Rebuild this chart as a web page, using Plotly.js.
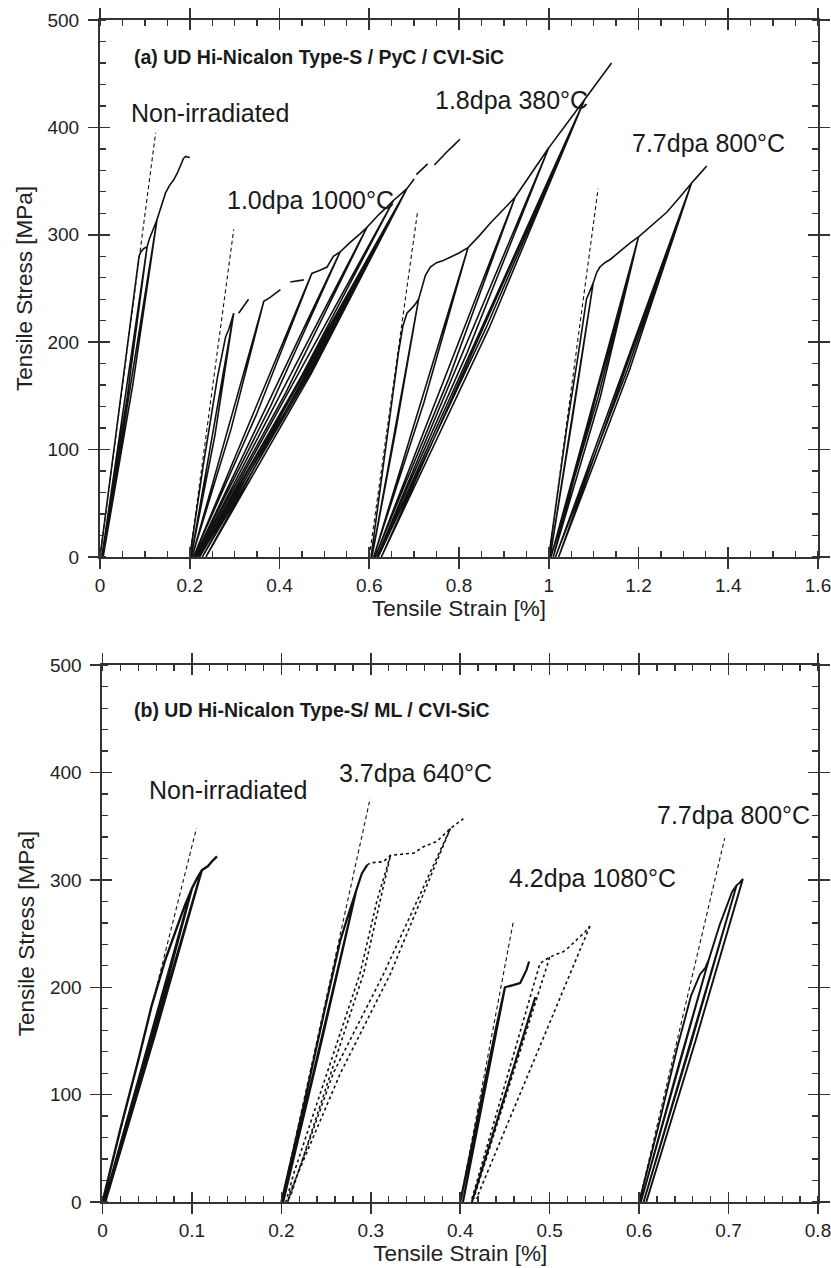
<!DOCTYPE html>
<html><head><meta charset="utf-8">
<script src="https://cdn.plot.ly/plotly-3.0.1.min.js"></script>
<style>html,body{margin:0;padding:0;background:#fff}#chart{width:831px;height:1268px}</style>
</head><body><div id="chart"></div>
<script>
// ===== (a) UD Hi-Nicalon Type-S / PyC / CVI-SiC =====
// Non-irradiated
const aNonX = [0,0.031,0.062,0.087,0.091,0.097,0.105, 0.061,0.004,0.105, 0.110,0.118,0.127, 0.073,0.007,0.127, 0.137,0.146,0.155,0.164,0.173,0.180,0.186,0.191,0.200];
const aNonY = [0,100,200,280,284,287,289,         150,0,289,             296,305,314,         160,0,314,             327,339,346,351,358,366,371,373,372];
const aNonDashX = [0, 0.124];
const aNonDashY = [0, 395];
// 1.0 dpa 1000 C
const a10X = [0.200,0.230,0.262,0.280,0.287,0.298, 0.256,0.203,0.298, null,
  0.309,0.320,0.331, null,
  0.365,0.292,0.205,0.365, 0.380,0.402, null,
  0.424,0.440,0.454, null,
  0.472,0.348,0.208,0.472, 0.490,0.506,0.520,0.535,
  0.382,0.211,0.535, 0.555,0.580,0.595,
  0.414,0.214,0.595, 0.610,0.624,0.640,0.654,
  0.446,0.218,0.654, 0.668,0.684,
  0.463,0.222,0.684, 0.467,0.228,0.684, 0.471,0.236,0.684,
  0.692,0.700, null, 0.705,0.718,0.730, null, 0.745,0.760,0.775,0.790,0.802];
const a10Y = [0,85,168,205,212,227, 113,0,227, null,
  227,234,240, null,
  238,119,0,238, 242,249, null,
  256,257,258, null,
  264,132,0,264, 267,270,280,284,
  142,0,284, 292,301,307,
  153,0,307, 314,320,326,332,
  166,0,332, 337,343,
  171,0,343, 171,0,343, 171,0,343,
  347,352, null, 356,361,366, null, 365,372,378,384,389];
const a10DashX = [0.200, 0.298];
const a10DashY = [0, 305];
// 1.8 dpa 380 C
const a18X = [0.604,0.640,0.665,0.675,0.684,0.700,0.710, 0.660,0.606,0.710,
  0.718,0.725,0.736,0.750,0.765,0.780,0.800,0.820, 0.722,0.610,0.820,
  0.845,0.870,0.900,0.925, 0.778,0.613,0.925,
  0.960,1.000, 0.818,0.617,1.000,
  1.040,1.080, 0.860,0.620,1.080, 0.867,0.627,1.080,
  1.110,1.140];
const a18Y = [0,110,190,215,227,234,240, 120,0,240,
  252,262,270,274,276,279,283,288, 144,0,288,
  299,311,324,335, 167,0,335,
  357,381, 190,0,381,
  404,426, 213,0,426, 213,0,426,
  443,460];
const a18DashX = [0.600, 0.7075];
const a18DashY = [0, 321];
// 7.7 dpa 800 C
const a77X = [1.000,1.040,1.070,1.084,1.099, 1.052,1.003,1.099,
  1.107,1.114,1.125,1.137,1.160,1.180,1.200, 1.110,1.005,1.200, 1.115,1.010,1.200,
  1.230,1.263,1.290,1.318, 1.175,1.015,1.318, 1.180,1.022,1.318,
  1.335,1.352];
const a77Y = [0,120,200,240,255, 127,0,255,
  265,270,274,277,285,292,298, 149,0,298, 149,0,298,
  309,321,334,348, 174,0,348, 174,0,348,
  356,364];
const a77DashX = [1.000, 1.110];
const a77DashY = [0, 343];

// ===== (b) UD Hi-Nicalon Type-S / ML / CVI-SiC =====
// Non-irradiated
const bNonX = [0,0.020,0.040,0.055,0.070,0.085,0.092,0.100, 0.053,0.002,0.100,
  0.106,0.111, 0.058,0.003,0.111, 0.114,0.118,0.122,0.128];
const bNonY = [0,68,132,183,225,260,276,292, 146,0,292,
  302,309, 154,0,309, 311,313,317,322];
const bNonDashX = [0, 0.105];
const bNonDashY = [0, 348];
// 3.7 dpa 640 C
const b37X = [0.200,0.225,0.250,0.266,0.275,0.281,0.284, 0.245,0.202,0.284, 0.290,0.296];
const b37Y = [0,90,185,244,268,284,291, 150,0,291, 306,314];
const b37DotX = [0.296,0.300,0.314,0.322,0.335,0.348,0.359,0.374,0.389,0.396,0.4035, null,
  0.322,0.307,0.288,0.214,0.205,0.210,0.292,0.322, null,
  0.389,0.3216,0.266,0.210,0.207,0.212,0.258,0.314,0.389];
const b37DotY = [314,316,317,323,324,325,331,336,348,352,357, null,
  323,281,213,27,0,5,213,323, null,
  348,212,120,10,0,12,120,212,348];
const b37DashX = [0.200, 0.2993];
const b37DashY = [0, 376];
// 4.2 dpa 1080 C
const b42X = [0.400,0.420,0.440,0.450, 0.426,0.403,0.450, 0.459,0.467,0.474,0.477, null, 0.413,0.484];
const b42Y = [0,82,162,200,           100,0,200,           202,204,216,224, null, 0,191];
const b42DotX = [0.413,0.4854,0.489,0.494,0.500,0.508,0.515,0.521,0.526,0.534,0.540,0.545, null,
  0.500,0.415, null, 0.545,0.418];
const b42DotY = [3,214,222,225,228,231,233,237,241,247,252,257, null,
  228,3, null, 257,3];
const b42DashX = [0.400, 0.4593];
const b42DashY = [0, 261];
// 7.7 dpa 800 C
const b77X = [0.600,0.622,0.643,0.658,0.668,0.674,0.678, 0.640,0.602,0.678,
  0.690,0.700,0.704,0.709, 0.658,0.605,0.709, 0.712,0.716, 0.663,0.608];
const b77Y = [0,72,145,192,212,218,226, 115,0,226,
  258,281,289,295, 148,0,295, 297,301, 150,0];
const b77DashX = [0.600, 0.6957];
const b77DashY = [0, 339];

// ticks and labels
const aXTicks = [0, 0.2, 0.4, 0.6, 0.8, 1, 1.2, 1.4, 1.6];
const aXTickText = ['0', '0.2', '0.4', '0.6', '0.8', '1', '1.2', '1.4', '1.6'];
const bXTicks = [0, 0.1, 0.2, 0.3, 0.4, 0.5, 0.6, 0.7, 0.8];
const bXTickText = ['0', '0.1', '0.2', '0.3', '0.4', '0.5', '0.6', '0.7', '0.8'];
const yTicks = [0, 100, 200, 300, 400, 500];
const yTickText = ['0', '100', '200', '300', '400', '500'];
const aLabels = ['Non-irradiated', '1.0dpa 1000°C', '1.8dpa 380°C', '7.7dpa 800°C'];
const bLabels = ['Non-irradiated', '3.7dpa 640°C', '4.2dpa 1080°C', '7.7dpa 800°C'];
const aTitle = '(a) UD Hi-Nicalon Type-S / PyC / CVI-SiC';
const bTitle = '(b) UD Hi-Nicalon Type-S/ ML / CVI-SiC';
const xTitle = 'Tensile Strain [%]';
const yTitle = 'Tensile Stress [MPa]';

// ===== drawing =====
const FONT = "'Liberation Sans', Arial, Helvetica, sans-serif";
const INK = '#111';
const AX = '#333';

function solid(x, y, xa, ya, w) {
  return {type:'scatter', mode:'lines', x:x, y:y, xaxis:xa, yaxis:ya, connectgaps:false,
    line:{color:INK, width:w||1.6}, hoverinfo:'skip', showlegend:false};
}
function dashed(x, y, xa, ya) {
  return {type:'scatter', mode:'lines', x:x, y:y, xaxis:xa, yaxis:ya,
    line:{color:INK, width:1.1, dash:'4px,3px'}, hoverinfo:'skip', showlegend:false};
}
function dotted(x, y, xa, ya) {
  return {type:'scatter', mode:'lines', x:x, y:y, xaxis:xa, yaxis:ya, connectgaps:false,
    line:{color:INK, width:1.6, dash:'dot'}, hoverinfo:'skip', showlegend:false};
}

const traces = [
  dashed(aNonDashX, aNonDashY, 'x', 'y'),
  dashed(a10DashX, a10DashY, 'x', 'y'),
  dashed(a18DashX, a18DashY, 'x', 'y'),
  dashed(a77DashX, a77DashY, 'x', 'y'),
  solid(aNonX, aNonY, 'x', 'y'),
  solid(a10X, a10Y, 'x', 'y'),
  solid(a18X, a18Y, 'x', 'y'),
  solid(a77X, a77Y, 'x', 'y'),
  dashed(bNonDashX, bNonDashY, 'x2', 'y2'),
  dashed(b37DashX, b37DashY, 'x2', 'y2'),
  dashed(b42DashX, b42DashY, 'x2', 'y2'),
  dashed(b77DashX, b77DashY, 'x2', 'y2'),
  solid(bNonX, bNonY, 'x2', 'y2', 2.4),
  solid(b37X, b37Y, 'x2', 'y2', 2.2),
  dotted(b37DotX, b37DotY, 'x2', 'y2'),
  solid(b42X, b42Y, 'x2', 'y2', 2.2),
  dotted(b42DotX, b42DotY, 'x2', 'y2'),
  solid(b77X, b77Y, 'x2', 'y2', 1.9),
  {type:'scatter', mode:'lines', x:[], y:[], xaxis:'x3', yaxis:'y3', hoverinfo:'skip', showlegend:false},
  {type:'scatter', mode:'lines', x:[], y:[], xaxis:'x4', yaxis:'y4', hoverinfo:'skip', showlegend:false}
];

function mainAxis(range, vals, text, mdtick, title, standoff, extra) {
  return Object.assign({
    range:range, tickmode:'array', tickvals:vals, ticktext:text,
    ticks:'outside', ticklen:10, tickwidth:1.6, tickcolor:AX,
    minor:{dtick:mdtick, tick0:0, ticks:'inside', ticklen:6, tickwidth:1.3, tickcolor:AX, showgrid:false},
    showline:true, linewidth:2, linecolor:AX, mirror:'ticks', showgrid:false, zeroline:false,
    tickfont:{family:FONT, size:19, color:'#222'}, ticklabeloverflow:'allow',
    title:{text:title, font:{family:FONT, size:22.5, color:'#222'}, standoff:standoff},
    automargin:false, fixedrange:true
  }, extra);
}
function overAxis(range, vals, extra) {
  return Object.assign({
    range:range, tickmode:'array', tickvals:vals,
    ticks:'inside', ticklen:10, tickwidth:1.6, tickcolor:AX,
    showticklabels:false, showline:false, mirror:'ticks', showgrid:false, zeroline:false,
    automargin:false, fixedrange:true
  }, extra);
}

const topY = [0.54573, 1];
const botY = [0, 0.45410];
const botX = [0.00348, 1];

const layout = {
  width:831, height:1268,
  margin:{l:99.5, r:12.7, t:19.8, b:66.3},
  paper_bgcolor:'#fff', plot_bgcolor:'#fff',
  font:{family:FONT, color:'#222'},
  showlegend:false, hovermode:false,
  xaxis: mainAxis([0,1.6], aXTicks, aXTickText, 0.05, xTitle, 4, {domain:[0,1], anchor:'y'}),
  yaxis: mainAxis([0,500], yTicks, yTickText, 20, yTitle, 9, {domain:topY, anchor:'x', ticklabelstandoff:5}),
  xaxis2: mainAxis([0,0.8], bXTicks, bXTickText, 0.02, xTitle, 4, {domain:botX, anchor:'y2'}),
  yaxis2: mainAxis([0,500], yTicks, yTickText, 20, yTitle, 9, {domain:botY, anchor:'x2', ticklabelstandoff:5}),
  xaxis3: overAxis([0,1.6], aXTicks, {overlaying:'x', anchor:'y3'}),
  yaxis3: overAxis([0,500], yTicks, {overlaying:'y', anchor:'x3'}),
  xaxis4: overAxis([0,0.8], bXTicks, {overlaying:'x2', anchor:'y4'}),
  yaxis4: overAxis([0,500], yTicks, {overlaying:'y2', anchor:'x4'}),
  annotations: []
};

function label(text, x, y, xr, yr, size, bold) {
  return {text: bold ? '<b>'+text+'</b>' : text, x:x, y:y, xref:xr, yref:yr,
    xanchor:'left', yanchor:'middle', showarrow:false,
    font:{family:FONT, size:size, color:'#1a1a1a'}};
}
layout.annotations.push(
  label(aTitle, 0.0717, 466, 'x', 'y', 19.5, true),
  label(aLabels[0], 0.0657, 413, 'x', 'y', 25),
  label(aLabels[1], 0.2794, 332, 'x', 'y', 25),
  label(aLabels[2], 0.743, 425.6, 'x', 'y', 25),
  label(aLabels[3], 1.181, 385.3, 'x', 'y', 25),
  label(bTitle, 0.0332, 458.2, 'x2', 'y2', 19.5, true),
  label(bLabels[0], 0.0499, 383.7, 'x2', 'y2', 25),
  label(bLabels[1], 0.2621, 399.3, 'x2', 'y2', 25),
  label(bLabels[2], 0.4519, 301.4, 'x2', 'y2', 25),
  label(bLabels[3], 0.6175, 360.4, 'x2', 'y2', 25)
);

Plotly.newPlot('chart', traces, layout, {displayModeBar:false, staticPlot:true});
</script></body></html>
